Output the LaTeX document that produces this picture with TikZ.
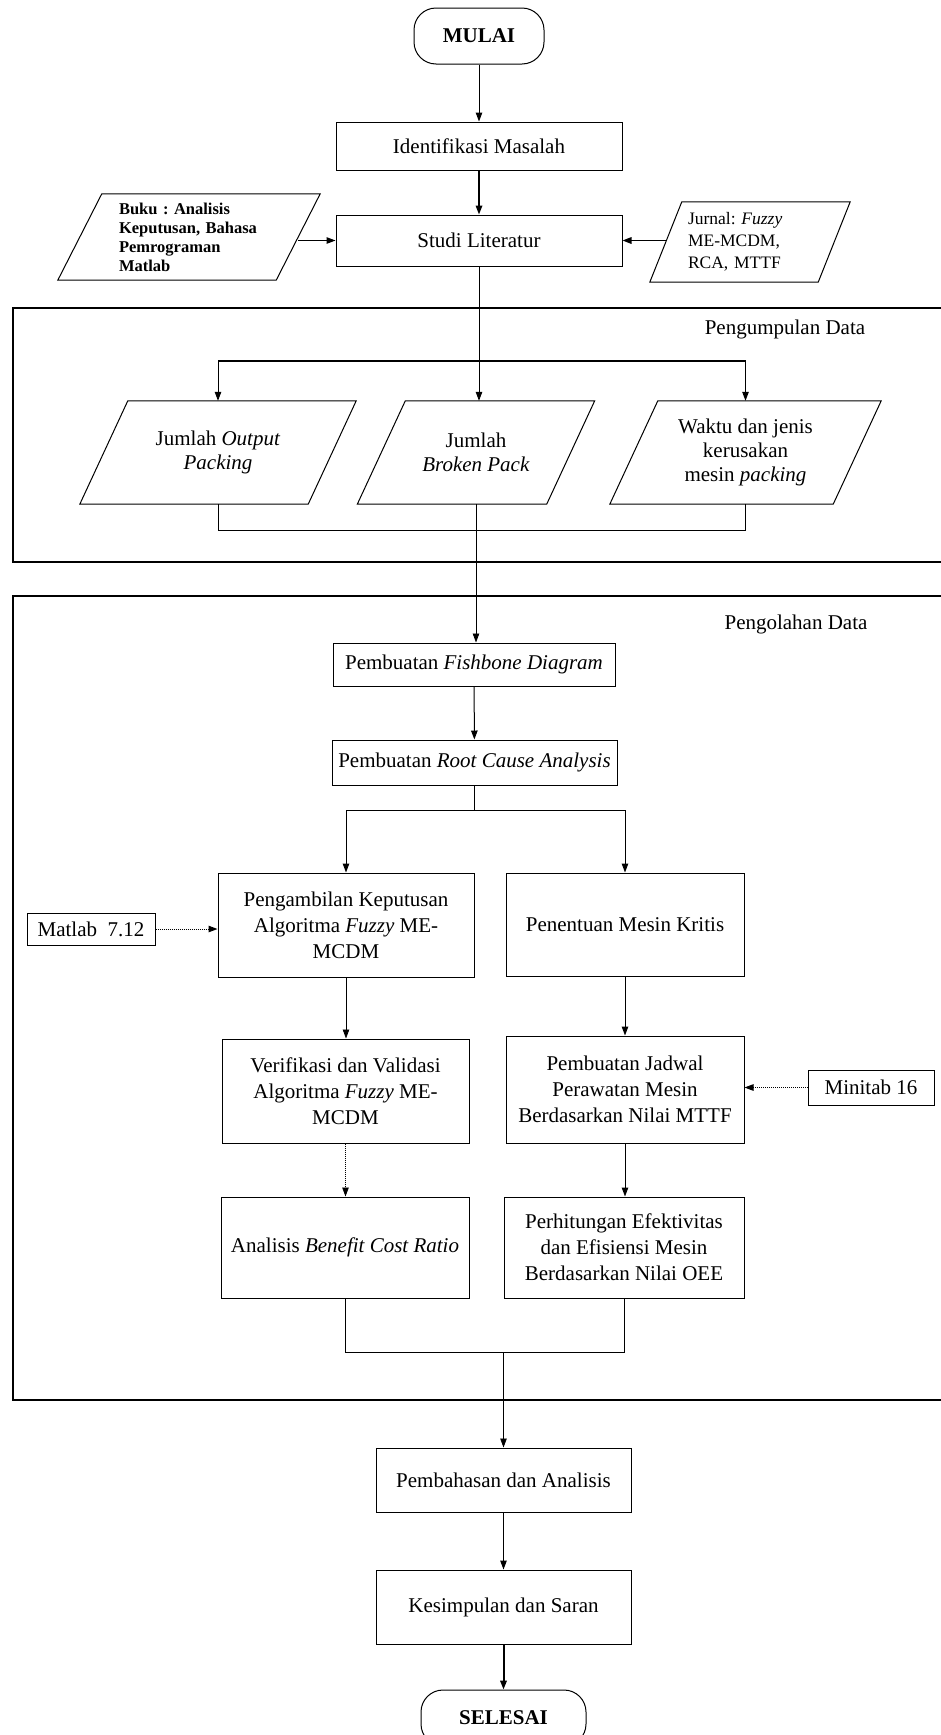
\documentclass[tikz,border=0pt]{standalone}
\usepackage{fontspec}
\setmainfont{Liberation Serif}
\usetikzlibrary{arrows.meta,calc}
\frenchspacing
\newcommand{\mypgram}[2]{\draw[line width=1pt] ($(#1.south west)+(-#2,0)$) -- ($(#1.north west)+(#2,0)$) -- ($(#1.north east)+(#2,0)$) -- ($(#1.south east)+(-#2,0)$) -- cycle;}
\tikzset{
  box/.style={draw, line width=1pt, inner sep=2pt, align=center, font=\fontsize{21}{26}\selectfont},
  termbox/.style={draw, line width=1pt, rounded corners=22pt, inner sep=2pt, font=\bfseries\fontsize{21}{25}\selectfont},
  pbox/.style={inner sep=0pt, align=center, font=\fontsize{21}{24}\selectfont},
  lbl/.style={inner sep=0pt, font=\fontsize{21}{25}\selectfont},
  arr/.style={-{Triangle[length=9pt,width=6.5pt]}, line width=1pt},
  ln/.style={line width=1pt},
  dotarr/.style={-{Triangle[length=9pt,width=6.5pt]}, line width=1pt, densely dotted}
}
\begin{document}
\begin{tikzpicture}[x=1pt,y=-1pt]
\useasboundingbox (0,0) rectangle (941,1735);
\fill[white] (0,0) rectangle (941,1735);

% frames
\draw[line width=1.2pt] (13,308) rectangle (960,562);
\draw[line width=1.2pt] (13,596) rectangle (960,1400);
\node[lbl] (lblA) at (785,329) {Pengumpulan Data};
\node[lbl] (lblB) at (796,624) {Pengolahan Data};

% top column
\node[termbox, minimum width=130pt, minimum height=56pt] (mulai) at (479,36) {MULAI};
\node[box, minimum width=286pt, minimum height=48pt] (ident) at (479,146) {Identifikasi Masalah};
\node[box, minimum width=286pt, minimum height=51pt] (studi) at (479,240.5) {Studi Literatur};

\node[inner sep=0pt, text width=140pt, align=left, font=\bfseries\fontsize{16.5}{19}\selectfont, minimum width=218pt, minimum height=86pt] (buku) at (189,237) {Buku : Analisis\\Keputusan, Bahasa\\Pemrograman\\Matlab};
\mypgram{buku}{22}
\node[inner sep=0pt, text width=124pt, align=left, font=\fontsize{17.5}{22}\selectfont, minimum width=168pt, minimum height=80pt] (jurnal) at (750,242) {Jurnal: \textit{Fuzzy}\\ME-MCDM,\\RCA, MTTF};
\mypgram{jurnal}{16}

% data collection
\node[pbox, minimum width=228pt, minimum height=103pt] (p1) at (218,452.5) {Jumlah \textit{Output}\\\textit{Packing}};
\mypgram{p1}{24}
\node[pbox, minimum width=189pt, minimum height=103pt] (p2) at (476,452.5) {Jumlah\\\textit{Broken Pack}};
\mypgram{p2}{24}
\node[pbox, minimum width=223pt, minimum height=103pt] (p3) at (745.5,452.5) {Waktu dan jenis\\kerusakan\\mesin \textit{packing}};
\mypgram{p3}{24}

% data processing
\node[box, minimum width=282pt, minimum height=43pt] (fish) at (474,664.5) {Pembuatan \textit{Fishbone Diagram}};
\node[box, minimum width=285pt, minimum height=45pt] (root) at (474.5,762.5) {Pembuatan \textit{Root Cause Analysis}};
\node[box, minimum width=256pt, minimum height=104pt] (ambil) at (346,925) {Pengambilan Keputusan\\Algoritma \textit{Fuzzy} ME-\\MCDM};
\node[box, minimum width=238pt, minimum height=103pt] (tentu) at (625,924.5) {Penentuan Mesin Kritis};
\node[box, minimum width=128pt, minimum height=32pt] (matlab) at (91,929) {Matlab\ \ 7.12};
\node[box, minimum width=247pt, minimum height=104pt] (verif) at (345.5,1091) {Verifikasi dan Validasi\\Algoritma \textit{Fuzzy} ME-\\MCDM};
\node[box, minimum width=238pt, minimum height=107pt] (jadwal) at (625,1089.5) {Pembuatan Jadwal\\Perawatan Mesin\\Berdasarkan Nilai MTTF};
\node[box, minimum width=126pt, minimum height=35pt] (minitab) at (871,1087.5) {Minitab 16};
\node[box, minimum width=248pt, minimum height=101pt] (analisis) at (345,1247.5) {Analisis \textit{Benefit Cost Ratio}};
\node[box, minimum width=240pt, minimum height=101pt] (hitung) at (624,1247.5) {Perhitungan Efektivitas\\dan Efisiensi Mesin\\Berdasarkan Nilai OEE};

% bottom
\node[box, minimum width=255pt, minimum height=64pt] (bahas) at (503.5,1480) {Pembahasan dan Analisis};
\node[box, minimum width=255pt, minimum height=74pt] (simpul) at (503.5,1607) {Kesimpulan dan Saran};
\node[termbox, minimum width=165pt, minimum height=56pt] (selesai) at (503.5,1718) {SELESAI};

% coordinates
\coordinate (brA) at (0,361);
\coordinate (jnA) at (0,530);
\coordinate (brB) at (0,810);
\coordinate (jnB) at (0,1352);

% connectors
\draw[arr] (mulai) -- (ident);
\draw[arr, line width=1.6pt] (ident) -- (studi);
\draw[arr] (buku.east |- studi.west) -- (studi.west);
\draw[arr, line width=1.6pt] (jurnal.west |- studi.east) -- (studi.east);

\draw[arr] (studi.south) -- (studi.south |- p2.north);
\draw[ln, line width=1.4pt] (p1.north |- brA) -- (p3.north |- brA);
\draw[arr] (p1.north |- brA) -- (p1.north);
\draw[arr] (p3.north |- brA) -- (p3.north);
\draw[ln] (p1.south) -- (p1.south |- jnA) -- (p3.south |- jnA) -- (p3.south);
\draw[arr, line width=0.8pt] (p2.south) -- (p2.south |- fish.north);

\draw[arr] (fish) -- (root);
\draw[ln, line width=0.8pt] (root.south) -- (root.south |- brB);
\draw[ln] (ambil.north |- brB) -- (tentu.north |- brB);
\draw[arr] (ambil.north |- brB) -- (ambil.north);
\draw[arr] (tentu.north |- brB) -- (tentu.north);
\draw[dotarr] (matlab.east) -- (matlab.east -| ambil.west);
\draw[arr, line width=0.8pt] (ambil.south) -- (ambil.south |- verif.north);
\draw[arr] (tentu) -- (tentu.south |- jadwal.north);
\draw[dotarr] (minitab.west) -- (minitab.west -| jadwal.east);
\draw[dotarr, line width=0.8pt] (verif.south) -- (verif.south |- analisis.north);
\draw[arr] (jadwal.south) -- (jadwal.south |- hitung.north);
\draw[ln] (analisis.south) -- (analisis.south |- jnB) -- (hitung.south |- jnB) -- (hitung.south);
\draw[arr, line width=0.8pt] (bahas.north |- jnB) -- (bahas.north);
\draw[arr] (bahas) -- (simpul);
\draw[arr, line width=2pt] (simpul) -- (selesai);
\end{tikzpicture}
\end{document}
